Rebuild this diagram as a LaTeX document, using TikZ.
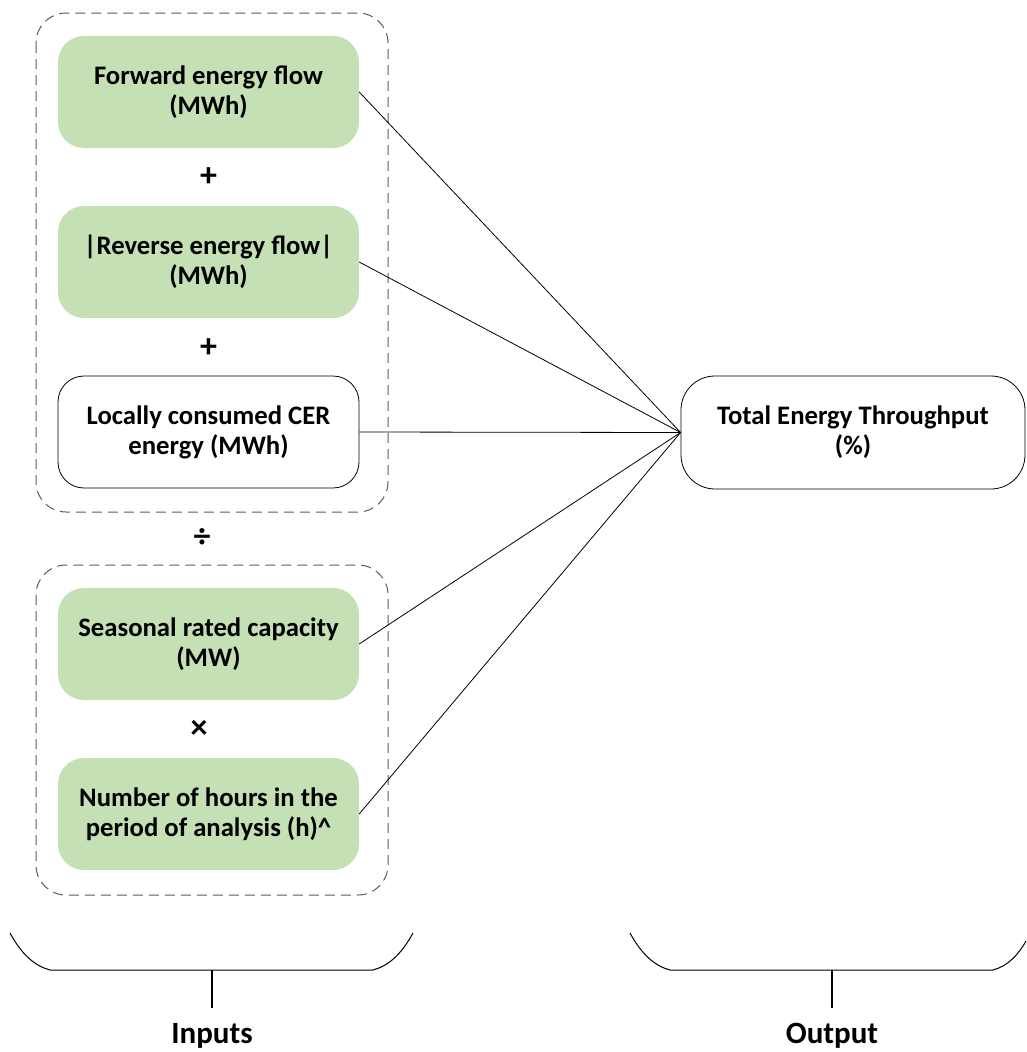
\documentclass[tikz,border=0pt]{standalone}
\usepackage{fontspec}
\setmainfont{Carlito}
\begin{document}
\begin{tikzpicture}[x=1pt,y=-1pt,
  txt/.style={font=\fontsize{26.7}{30}\selectfont\bfseries, align=center},
  inbox/.style={txt, rounded corners=26pt, minimum width=301pt, minimum height=112pt, inner sep=0pt},
  greenbox/.style={inbox, fill=boxgreen},
  plainbox/.style={inbox, draw=black, line width=0.8pt},
  group/.style={draw=dashgrey, dash pattern=on 10pt off 6pt, line width=1pt, rounded corners=30pt},
  op/.style={font=\fontsize{34}{34}\selectfont\bfseries},
  link/.style={line width=0.8pt},
  brace/.style={line width=1pt},
  label/.style={font=\fontsize{31}{34}\selectfont\bfseries}
]
\definecolor{boxgreen}{RGB}{197,224,180}
\definecolor{dashgrey}{RGB}{90,90,90}
\useasboundingbox (0,0) rectangle (1026,1052);

% dashed groupings
\draw[group] (36,13) rectangle (388,512);
\draw[group] (36,565) rectangle (388,895);

% input boxes
\node[greenbox] (fwd) at (208.5,92) {Forward energy flow\\(MWh)};
\node[greenbox] (rev) at (208.5,262) {|Reverse energy flow|\\(MWh)};
\node[plainbox] (cer) at (208.5,432) {Locally consumed CER\\energy (MWh)};
\node[greenbox] (cap) at (208.5,644) {Seasonal rated capacity\\(MW)};
\node[greenbox] (hrs) at (208.5,814) {Number of hours in the\\period of analysis (h)\textasciicircum};

% operators
\node[op] (p1) at (208.5,177) {+};
\node[op] (p2) at (208.5,348) {+};
\node[op] (dv) at (202,538) {÷};
\node[op] (mul) at (199,729) {×};

% output box
\node[txt, draw=black, line width=0.8pt, rounded corners=34pt, minimum width=344pt, minimum height=113pt, inner sep=0pt] (out) at (853,432.5) {Total Energy Throughput\\(\%)};

% connectors
\coordinate (hub) at (out.west);
\foreach \n in {fwd,rev,cer,cap,hrs}
  \draw[link] (\n.east) -- (hub);

% braces
\coordinate (ib) at (212,970);
\coordinate (ob) at (832,970);
\draw[brace] (10,933) .. controls (22,955) and (35,966) .. (50,970) -- (373,970) .. controls (388,966) and (401,955) .. (413,933);
\draw[brace] (630,933) .. controls (642,955) and (655,966) .. (670,970) -- (993,970) .. controls (1008,966) and (1018,955) .. (1026,941);
\node[label] (inl) at (212,1036) {Inputs};
\node[label] (outl) at (832,1036) {Output};
\draw[line width=1.5pt] (ib) -- (212,1008);
\draw[line width=1.5pt] (ob) -- (832,1008);
\end{tikzpicture}
\end{document}
